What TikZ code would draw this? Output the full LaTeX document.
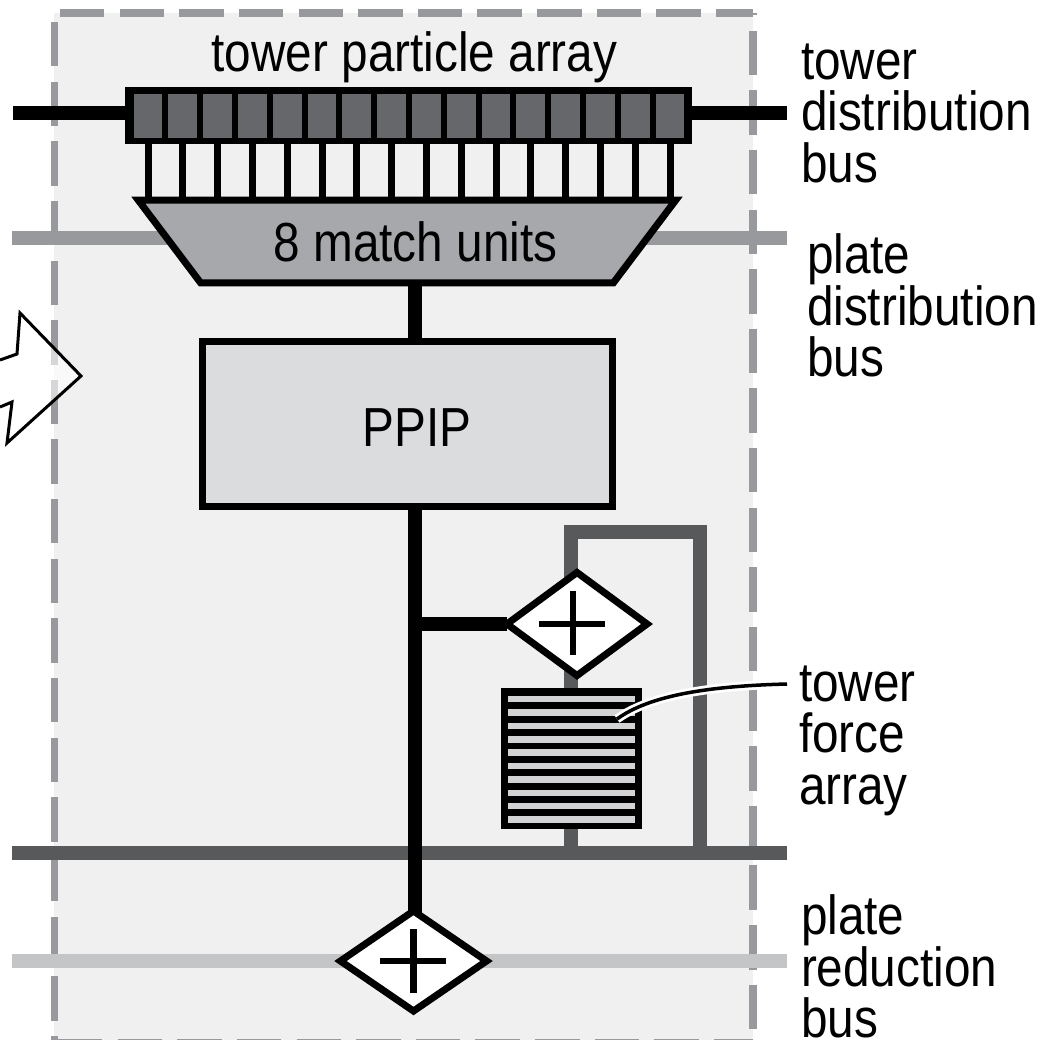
\documentclass[tikz,border=0pt]{standalone}
\usepackage{xcolor}
\usepackage{fontspec}
\setmainfont[FakeStretch=0.867]{Liberation Sans}
\usetikzlibrary{shapes.geometric}
\definecolor{C_TILE}{HTML}{F0F0F1}
\definecolor{C_DASH}{HTML}{98999D}
\definecolor{C_DARK}{HTML}{58595B}
\definecolor{C_LITE}{HTML}{C4C5C7}
\definecolor{C_CELL}{HTML}{66676B}
\definecolor{C_MATCH}{HTML}{A7A8AB}
\definecolor{C_PPIP}{HTML}{DBDCDE}
\definecolor{C_STRIPE}{HTML}{D1D3D4}

\begin{document}
\begin{tikzpicture}[
  x=0.01cm, y=-0.01cm,
  every node/.style={inner sep=0pt, outer sep=0pt,
                     font=\fontsize{0.55cm}{0.515cm}\selectfont},
  tile/.style={fill=C_TILE, minimum width=6.99cm, minimum height=10.27cm},
  frame/.style={draw=C_DASH, line width=0.075cm,
                dash pattern=on 0.444cm off 0.152cm},
  bus/.style={line width=0.14cm},
  wire/.style={line width=0.07cm},
  cellbox/.style={fill=C_CELL, minimum width=0.289cm, minimum height=0.43cm},
  bar/.style={fill=black},
  match/.style={draw, line width=0.07cm, fill=C_MATCH, trapezium,
                shape border rotate=180, trapezium angle=33,
                trapezium stretches body=true,
                minimum width=5.37cm, minimum height=0.825cm},
  box/.style={draw, line width=0.07cm, fill=C_PPIP,
              minimum width=4.10cm, minimum height=1.65cm},
  adder/.style={draw, line width=0.07cm, fill=white, diamond,
                shape aspect=1.4},
  plus/.style={line width=0.065cm},
  stripe/.style={fill=C_STRIPE, minimum width=1.27cm, minimum height=0.065cm},
  note/.style={align=left, anchor=north west},
]
\useasboundingbox (0,0) rectangle (1043,1040);

%% tile and its dashed border
\node[tile] (tile) at (403.5,526.5) {};
\coordinate (topL) at (60,13);
\coordinate (topR) at (753,13);
\coordinate (leftT) at (54.5,22);
\coordinate (leftB) at (54.5,1040);
\coordinate (rightT) at (753,13);
\coordinate (rightB) at (753,1040);
\coordinate (botL) at (58,1039.6);
\coordinate (botR) at (753,1039.6);
\draw[frame] (topL) -- (topR);
\draw[frame] (leftT) -- (leftB);
\draw[frame, dash phase=0.42cm] (rightT) -- (rightB);
\draw[frame, line width=0.01cm] (botL) -- (botR);

%% buses
\coordinate (tdbL) at (13,113);
\coordinate (tdbR) at (787,113);
\coordinate (pdbL) at (12,238);
\coordinate (pdbR) at (787,238);
\coordinate (trbL) at (12,853);
\coordinate (trbR) at (787,853);
\coordinate (prbL) at (12,961);
\coordinate (prbR) at (787,961);
\draw[bus, black] (tdbL) -- (tdbR);
\draw[bus, C_DASH] (pdbL) -- (pdbR);
\draw[bus, C_DARK] (trbL) -- (trbR);
\draw[bus, C_LITE] (prbL) -- (prbR);

%% force loop
\coordinate (loopA) at (571,853);
\coordinate (loopB) at (571,532);
\coordinate (loopC) at (700,532);
\coordinate (loopD) at (700,853);
\draw[bus, C_DARK, line join=miter] (loopA) -- (loopB) -- (loopC) -- (loopD);

%% trunk
\coordinate (trunkT) at (415,281);
\coordinate (trunkB) at (415,918);
\coordinate (trunkJ) at (415,624);
\draw[bus, black] (trunkT) -- (trunkB);

%% particle array
\node[bar, minimum width=5.67cm, minimum height=0.575cm] (particles) at (408.5,115.7) {};
\foreach \i in {0,...,15} {
  \node[cellbox] (cell\i) at ({148+34.8*\i},116) {};
}

%% match units
\node[match] (units) at (407,241.5) {\hspace*{0.17cm}8 match units};
\foreach \i in {0,...,15} {
  \draw[wire] (cell\i |- particles.south) -- (cell\i |- units.north);
}

\node[box] (ppip) at (407.5,424) {\hspace*{0.19cm}\rule{0pt}{0.455cm}PPIP};

%% adders
\node[adder, minimum width=1.40cm, minimum height=1.03cm] (addA) at (577,624) {};
\node[adder, minimum width=1.46cm, minimum height=1.00cm] (addB) at (413.5,961) {};
\draw[bus, black] (trunkJ) -- (addA.west);
\draw[plus] ([shift={(-0.375cm,0)}]addA.center) -- ([shift={(0.28cm,0)}]addA.center);
\draw[plus] ([shift={(-0.04cm,-0.31cm)}]addA.center) -- ([shift={(-0.04cm,0.33cm)}]addA.center);
\draw[plus] ([shift={(-0.33cm,0)}]addB.center) -- ([shift={(0.32cm,0)}]addB.center);
\draw[plus] ([shift={(0,-0.32cm)}]addB.center) -- ([shift={(0,0.32cm)}]addB.center);

%% force array
\node[bar, minimum width=1.41cm, minimum height=1.41cm] (forces) at (571.5,758.5) {};
\foreach \i in {0,...,9} {
  \node[stripe] (stripe\i) at (571.5,{699.2+13.37*\i}) {};
}

%% leader
\coordinate (leadA) at (787,684);
\coordinate (leadB) at (617,719);
\draw[white, line width=0.09cm] (leadA) .. controls (710,686) and (650,695) .. (leadB);
\draw[black, line width=0.035cm] (leadA) .. controls (710,686) and (650,695) .. (leadB);

%% incoming arrow
\coordinate (arrA) at (0,407);
\coordinate (arrB) at (12,402);
\coordinate (arrC) at (7,443);
\coordinate (arrD) at (81,376);
\coordinate (arrE) at (20,313);
\coordinate (arrF) at (17,354);
\coordinate (arrG) at (0,360);
\fill[white, fill opacity=0.6] (arrA) -- (arrB) -- (arrC) -- (arrD) -- (arrE) -- (arrF) -- (arrG) -- cycle;
\draw[line width=0.03cm, line join=miter] (arrA) -- (arrB) -- (arrC) -- (arrD) -- (arrE) -- (arrF) -- (arrG);

%% labels
\node[anchor=base] (title) at (414.5,72) {tower particle array};
\node[note] (tdblabel) at (801,43.5) {tower\\distribution\\bus};
\node[note] (pdblabel) at (807,234) {plate\\distribution\\bus};
\node[note] (falabel) at (799,665.5) {tower\\force\\array};
\node[note] (prblabel) at (801,895) {plate\\reduction\\bus};

\end{tikzpicture}
\end{document}
